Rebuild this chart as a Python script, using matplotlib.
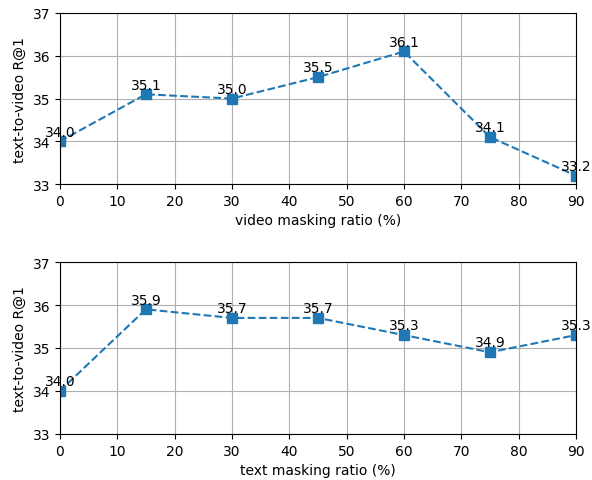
import matplotlib
matplotlib.use("Agg")
import matplotlib.pyplot as plt

ratio = [0, 15, 30, 45, 60, 75, 90]
video_r1 = [34.0, 35.1, 35.0, 35.5, 36.1, 34.1, 33.2]
text_r1 = [34.0, 35.9, 35.7, 35.7, 35.3, 34.9, 35.3]


def draw(ax, y, xlabel):
    ax.plot(ratio, y, ls='--', marker='s', color='tab:blue', markersize=7)
    for a, b in zip(ratio, y):
        ax.annotate('%.1f' % b, (a, b), xytext=(0, 2), textcoords='offset points',
                    ha='center', va='bottom', fontsize=10)
    ax.set_xlim(0, 90)
    ax.set_ylim(33, 37)
    ax.set_xticks(range(0, 91, 10))
    ax.set_yticks([33, 34, 35, 36, 37])
    ax.set_xlabel(xlabel)
    ax.set_ylabel('text-to-video R@1')
    ax.grid(True)


fig = plt.figure(figsize=(5.92, 4.81), dpi=100)
ax1 = fig.add_axes([0.101, 0.615, 0.872, 0.356])
ax2 = fig.add_axes([0.101, 0.096, 0.872, 0.357])
draw(ax1, video_r1, 'video masking ratio (%)')
draw(ax2, text_r1, 'text masking ratio (%)')
fig.savefig('out.png', dpi=100)
